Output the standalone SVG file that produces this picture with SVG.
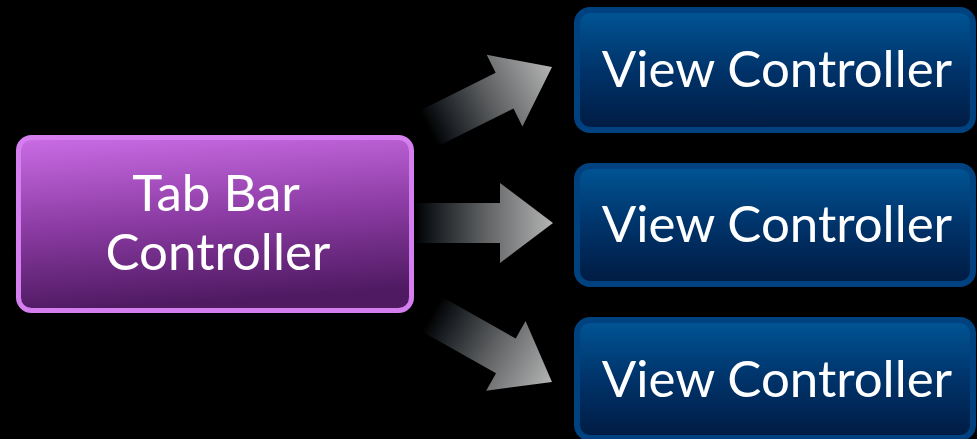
<svg xmlns="http://www.w3.org/2000/svg" width="977" height="439" viewBox="0 0 977 439">
<defs>
<style>
.lbl{font-family:"Lato","Open Sans","Liberation Sans",sans-serif;font-size:51px;fill:#ffffff;text-anchor:middle}
.vc{fill:url(#blueG);stroke:#00427f;stroke-width:6}
.arrow{fill:url(#arrowG)}
</style>
<linearGradient id="purpleG" x1="0" y1="0" x2="0.15" y2="1">
<stop offset="0" stop-color="#cb6de6"/>
<stop offset="0.5" stop-color="#8e3da6"/>
<stop offset="1" stop-color="#4f1a62"/>
</linearGradient>
<linearGradient id="blueG" x1="0" y1="0" x2="0" y2="1">
<stop offset="0" stop-color="#005595"/>
<stop offset="0.5" stop-color="#00336a"/>
<stop offset="1" stop-color="#001b42"/>
</linearGradient>
<linearGradient id="arrowG" gradientUnits="userSpaceOnUse" x1="-138" y1="0" x2="0" y2="0">
<stop offset="0" stop-color="#000000"/>
<stop offset="0.12" stop-color="#15191d"/>
<stop offset="0.5" stop-color="#5e6062"/>
<stop offset="1" stop-color="#b4b4b4"/>
</linearGradient>
<path id="arrowShape" d="M -138 -20 H -53 V -40 L 0 0 L -53 40 V 20 H -138 Z"/>
</defs>
<rect x="0" y="0" width="977" height="439" fill="#000000"/>
<g id="connectors">
<use href="#arrowShape" class="arrow" transform="translate(552,67) rotate(-26.5)"/>
<use href="#arrowShape" class="arrow" transform="translate(553,223)"/>
<use href="#arrowShape" class="arrow" transform="translate(552,382) rotate(29.5)"/>
</g>
<g id="tabbar">
<rect x="18.5" y="137.5" width="393" height="173" rx="13" fill="url(#purpleG)" stroke="#d47ef0" stroke-width="5"/>
<text class="lbl" x="216" y="211">Tab Bar</text>
<text class="lbl" x="218" y="270">Controller</text>
</g>
<g id="vc1">
<rect class="vc" x="577" y="10" width="396" height="120" rx="13"/>
<text class="lbl" x="777" y="87">View Controller</text>
</g>
<g id="vc2">
<rect class="vc" x="577" y="166" width="396" height="118" rx="13"/>
<text class="lbl" x="777" y="242">View Controller</text>
</g>
<g id="vc3">
<rect class="vc" x="577" y="320" width="396" height="118" rx="13"/>
<text class="lbl" x="777" y="397">View Controller</text>
</g>
</svg>
